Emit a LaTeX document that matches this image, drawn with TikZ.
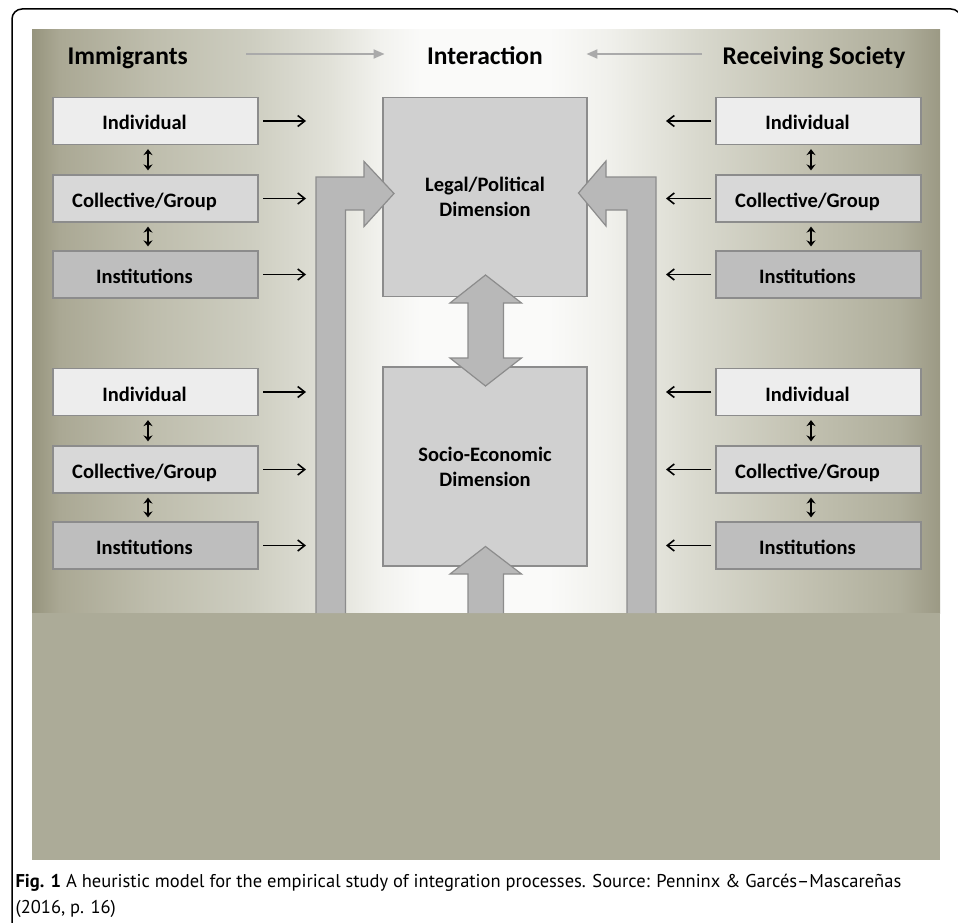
\documentclass[tikz,border=0pt]{standalone}
\usepackage{fontspec}
\setmainfont{Carlito}
\newfontfamily\capfont{PT Sans}
\usetikzlibrary{arrows.meta}
\tikzset{every picture/.style={line width=1.2pt}}
\definecolor{khaki}{RGB}{172,171,152}
\definecolor{edge}{RGB}{140,140,140}
\definecolor{indfill}{RGB}{237,237,237}
\definecolor{colfill}{RGB}{216,216,216}
\definecolor{insfill}{RGB}{190,190,190}
\definecolor{dimfill}{RGB}{208,208,208}
\definecolor{flowfill}{RGB}{184,184,184}
\definecolor{hintgrey}{RGB}{170,170,170}
\pgfdeclarehorizontalshading{band}{100bp}{
  rgb(0bp)=(0.588,0.580,0.490);
  rgb(25bp)=(0.588,0.580,0.490);
  rgb(26.5bp)=(0.667,0.659,0.580);
  rgb(31.5bp)=(0.745,0.741,0.675);
  rgb(37bp)=(0.804,0.804,0.753);
  rgb(41.4bp)=(0.882,0.882,0.847);
  rgb(44.2bp)=(0.949,0.949,0.933);
  rgb(46.4bp)=(0.980,0.980,0.976);
  rgb(53.5bp)=(0.980,0.980,0.976);
  rgb(56.8bp)=(0.941,0.941,0.922);
  rgb(61.8bp)=(0.847,0.847,0.804);
  rgb(67.3bp)=(0.765,0.761,0.698);
  rgb(72.8bp)=(0.686,0.682,0.608);
  rgb(75bp)=(0.608,0.600,0.518);
  rgb(100bp)=(0.608,0.600,0.518)}

\begin{document}
\begin{tikzpicture}[x=1pt,y=-1pt,
  lvl/.style={draw=edge, minimum width=205, minimum height=47, inner sep=0pt,
    font=\bfseries\fontsize{20.5}{25}\selectfont, text height=18pt, text depth=0pt,
    execute at begin node=\hspace*{-22pt}},
  dim/.style={draw=edge, fill=dimfill, minimum width=204, minimum height=199,
    align=center, font=\bfseries\fontsize{20.5}{25}\selectfont},
  head/.style={inner sep=0pt, font=\bfseries\fontsize{25.5}{30}\selectfont},
  push/.style={-{Straight Barb[length=7pt,width=11pt]}, line width=1.6pt},
  swap/.style={{Stealth[length=6pt,width=9pt]}-{Stealth[length=6pt,width=9pt]},
    line width=1.6pt, shorten <=4pt, shorten >=4pt},
  hint/.style={-{Triangle[length=11pt,width=9pt]}, draw=hintgrey, line width=2pt},
  flow/.style={fill=flowfill, draw=edge, line width=1.2pt, line join=miter}]
\useasboundingbox (0,0) rectangle (958,923);
\shade[shading=band] (32,30) rectangle (940,613);
\fill[khaki] (32,613) rectangle (940,860);
\draw[line width=1.5pt, rounded corners=10pt] (12,950) -- (12,9) -- (961,9) -- (961,950);

\node[head, anchor=base west] (imm) at (67,65) {Immigrants};
\node[head, anchor=base] (inter) at (485,65) {Interaction};
\node[head, anchor=base east] (recv) at (906,65) {Receiving Society};
\coordinate (hy) at (0,54);
\draw[hint, shorten <=58pt, shorten >=42pt] (imm.east |- hy) -- (inter.west |- hy);
\draw[hint, shorten <=20pt, shorten >=43pt] (recv.west |- hy) -- (inter.east |- hy);

\node[dim] (legal) at (485,197) {Legal/Political\\Dimension};
\node[dim] (socio) at (485,466.5) {Socio-Economic\\Dimension};

\coordinate (lrail) at (306,0);
\coordinate (rrail) at (666,0);
\foreach \g/\yc in {1/121, 2/392}{
  \node[lvl, fill=indfill] (iInd\g) at (155.5,\yc) {Individual};
  \node[lvl, fill=colfill] (iCol\g) at (155.5,\yc+77.5) {Collective/Group};
  \node[lvl, fill=insfill] (iIns\g) at (155.5,\yc+153.5) {Institutions};
  \node[lvl, fill=indfill] (rInd\g) at (818.5,\yc) {Individual};
  \node[lvl, fill=colfill] (rCol\g) at (818.5,\yc+77.5) {Collective/Group};
  \node[lvl, fill=insfill] (rIns\g) at (818.5,\yc+153.5) {Institutions};
  \draw[swap] ([xshift=-7.5pt]iInd\g.south) -- ([xshift=-7.5pt]iCol\g.north);
  \draw[swap] ([xshift=-7.5pt]iCol\g.south) -- ([xshift=-7.5pt]iIns\g.north);
  \draw[swap] ([xshift=-7.5pt]rInd\g.south) -- ([xshift=-7.5pt]rCol\g.north);
  \draw[swap] ([xshift=-7.5pt]rCol\g.south) -- ([xshift=-7.5pt]rIns\g.north);
  \foreach \b in {Ind,Col,Ins}{
    \draw[push, shorten <=4.5pt] (i\b\g) -- (i\b\g -| lrail);
    \draw[push, shorten <=4pt] (r\b\g) -- (r\b\g -| rrail);
  }
}

\filldraw[flow] (316,613) -- (316,177) -- (364,177) -- (364,161.5) -- (394,193.5)
  -- (364,226.5) -- (364,210) -- (345.5,210) -- (345.5,613);
\filldraw[flow] (656,613) -- (656,177) -- (606,177) -- (606,161) -- (578.5,193)
  -- (606,226) -- (606,210) -- (627,210) -- (627,613);
\filldraw[flow] (468,303) -- (450,303) -- (485.5,275) -- (521.5,303) -- (503.5,303)
  -- (503.5,358) -- (521.5,358) -- (485.5,386) -- (450,358) -- (468,358) -- cycle;
\filldraw[flow] (468,613) -- (468,574) -- (450,574) -- (485.5,546.5) -- (521.5,574)
  -- (503.5,574) -- (503.5,613);

\node[anchor=base west, inner sep=0pt, font=\capfont\fontsize{18.5}{26}\selectfont] (cap) at (15,887)
  {\textbf{Fig. 1} A heuristic model for the empirical study of integration processes. Source: Penninx \& Garcés–Mascareñas};
\node[anchor=base west, inner sep=0pt, font=\capfont\fontsize{18.5}{26}\selectfont] (capb) at (15,913)
  {(2016, p. 16)};
\end{tikzpicture}
\end{document}
